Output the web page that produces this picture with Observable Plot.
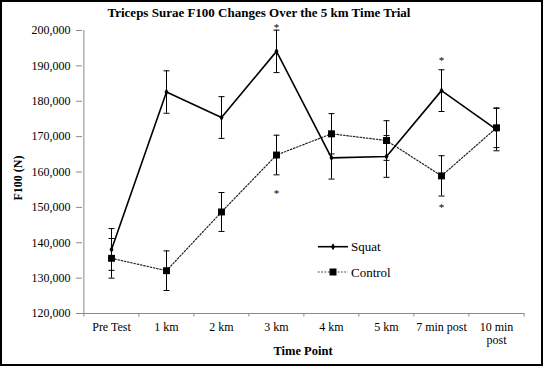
<!DOCTYPE html>
<html><head><meta charset="utf-8">
<script src="https://cdn.jsdelivr.net/npm/d3@7"></script>
<script src="https://cdn.jsdelivr.net/npm/@observablehq/plot@0.6"></script>
<style>
body{margin:0;background:#fff;}
#wrap{position:relative;width:543px;height:366px;overflow:hidden;font-family:"Liberation Serif","Times New Roman",serif;color:#000;}
#wrap > svg{position:absolute;left:0;top:0;}
#frame{position:absolute;left:0;top:0;width:543px;height:366px;box-sizing:border-box;border:2px solid #000;pointer-events:none;}
#title{position:absolute;left:0;width:518px;top:5.5px;line-height:13px;text-align:center;font-weight:bold;font-size:13px;white-space:nowrap;}
#xlabel{position:absolute;left:82px;width:442px;top:345px;line-height:13px;text-align:center;font-weight:bold;font-size:12.5px;}
#ylabel{position:absolute;left:18px;top:178px;width:0;height:0;}
#ylabel span{position:absolute;left:0;top:0;font-weight:bold;font-size:12px;line-height:14px;white-space:nowrap;transform:translate(-50%,-50%) rotate(-90deg);}
</style>
</head><body>
<div id="wrap">
  <div id="title">Triceps Surae F100 Changes Over the 5 km Time Trial</div>
  <div id="xlabel">Time Point</div>
  <div id="ylabel"><span>F100 (N)</span></div>
  <div id="frame"></div>
</div>
<script>
const categories = ["Pre Test","1 km","2 km","3 km","4 km","5 km","7 min post","10 min post"];
const tickLabels = ["Pre Test","1 km","2 km","3 km","4 km","5 km","7 min post","10 min\npost"];
const squatMean = [138100,182600,175400,194100,164000,164400,183000,172000];
const squatErr  = [5900,6000,5900,6000,6000,5900,5900,6000];
const controlMean = [135600,132100,148700,164800,170800,168900,158900,172500];
const controlErr  = [5600,5600,5500,5600,5700,5600,5700,5600];
const yTicks = [120000,130000,140000,150000,160000,170000,180000,190000,200000];
const sigSquatAt = ["3 km","7 min post"];
const sigSquatY  = [201600,192300];
const sigControlAt = ["3 km","7 min post"];
const sigControlY  = [154900,150700];
const seriesNames = ["Squat","Control"];

const W = 543, H = 366, ML = 82, MR = 19, MT = 30, MB = 53;
const step = (W - ML - MR) / categories.length;

const rows = categories.map((c, i) => ({c, sm: squatMean[i], se: squatErr[i], cm: controlMean[i], ce: controlErr[i]}));
const sigS = sigSquatAt.map((c, i) => ({c, y: sigSquatY[i]}));
const sigC = sigControlAt.map((c, i) => ({c, y: sigControlY[i]}));
const capSym = {draw(ctx, size){ const w = Math.sqrt(size / Math.PI); ctx.moveTo(-w, 0); ctx.lineTo(w, 0); }};

const chart = Plot.plot({
  width: W, height: H,
  marginLeft: ML, marginRight: MR, marginTop: MT, marginBottom: MB,
  style: {fontFamily: "'Liberation Serif','Times New Roman',serif", fontSize: "12px", color: "#000", background: "transparent", overflow: "visible"},
  x: {type: "point", domain: categories, padding: 0.5, align: 0.5, label: null},
  y: {domain: [120000, 200000], label: null},
  marks: [
    Plot.ruleY([120000], {stroke: "#8a8a8a", strokeWidth: 1}),
    Plot.ruleX([categories[0]], {y1: 120000, y2: 200000, dx: -step/2, stroke: "#8a8a8a", strokeWidth: 1}),
    Plot.ruleX(categories, {y1: 120000, y2: 119000, dx: -step/2, stroke: "#8a8a8a"}),
    Plot.ruleX([categories[categories.length-1]], {y1: 120000, y2: 119000, dx: step/2, stroke: "#8a8a8a"}),
    Plot.axisY(yTicks, {tickSize: 6, tickPadding: 6, tickFormat: d3.format(","), stroke: "#8a8a8a", fill: "#000", fontSize: 12, label: null}),
    Plot.axisX({tickSize: 0, tickPadding: 9, lineHeight: 1.05, tickFormat: d => tickLabels[categories.indexOf(d)], fill: "#000", fontSize: 12, label: null}),
    Plot.ruleX(rows, {x: "c", y1: d => d.cm - d.ce, y2: d => d.cm + d.ce, stroke: "#000", strokeWidth: 1}),
    Plot.dot(rows, {x: "c", y: d => d.cm - d.ce, symbol: capSym, r: 3, stroke: "#000", fill: "none", strokeWidth: 1}),
    Plot.dot(rows, {x: "c", y: d => d.cm + d.ce, symbol: capSym, r: 3, stroke: "#000", fill: "none", strokeWidth: 1}),
    Plot.ruleX(rows, {x: "c", y1: d => d.sm - d.se, y2: d => d.sm + d.se, stroke: "#000", strokeWidth: 1}),
    Plot.dot(rows, {x: "c", y: d => d.sm - d.se, symbol: capSym, r: 3, stroke: "#000", fill: "none", strokeWidth: 1}),
    Plot.dot(rows, {x: "c", y: d => d.sm + d.se, symbol: capSym, r: 3, stroke: "#000", fill: "none", strokeWidth: 1}),
    Plot.line(rows, {x: "c", y: "cm", stroke: "#222", strokeWidth: 1.2, strokeDasharray: "1.5,1.8"}),
    Plot.line(rows, {x: "c", y: "sm", stroke: "#000", strokeWidth: 1.6}),
    Plot.dot(rows, {x: "c", y: "cm", symbol: "square", r: 3.9, fill: "#000"}),
    Plot.dot(rows, {x: "c", y: "sm", symbol: "diamond", r: 2.1, fill: "#000"}),
    Plot.text(sigS, {x: "c", y: "y", text: () => "*", fontSize: 11, dy: 3, fill: "#000"}),
    Plot.text(sigC, {x: "c", y: "y", text: () => "*", fontSize: 11, dy: 3, fill: "#000"})
  ]
});
const wrap = document.getElementById("wrap");
wrap.insertBefore(chart, wrap.firstChild);

const lg = d3.select(wrap).append("svg").attr("width", W).attr("height", H)
  .style("position", "absolute").style("left", 0).style("top", 0).style("pointer-events", "none");
const legendY = [246.7, 272];
seriesNames.forEach((name, i) => {
  const g = lg.append("g").attr("transform", `translate(318,${legendY[i]})`);
  g.append("line").attr("x1", 0).attr("x2", 30).attr("y1", 0).attr("y2", 0)
    .attr("stroke", i === 0 ? "#000" : "#222").attr("stroke-width", i === 0 ? 1.6 : 1.2)
    .attr("stroke-dasharray", i === 0 ? null : "1.5,1.8");
  if (i === 0) g.append("path").attr("d", d3.symbol(d3.symbolDiamond, Math.PI*2.1*2.1)()).attr("transform", "translate(15,0)").attr("fill", "#000");
  else g.append("rect").attr("x", 11.5).attr("y", -3.5).attr("width", 7).attr("height", 7).attr("fill", "#000");
  g.append("text").attr("x", 33).attr("y", 4.5).attr("font-size", 13)
    .attr("font-family", "'Liberation Serif','Times New Roman',serif").text(name);
});
</script>
</body></html>
